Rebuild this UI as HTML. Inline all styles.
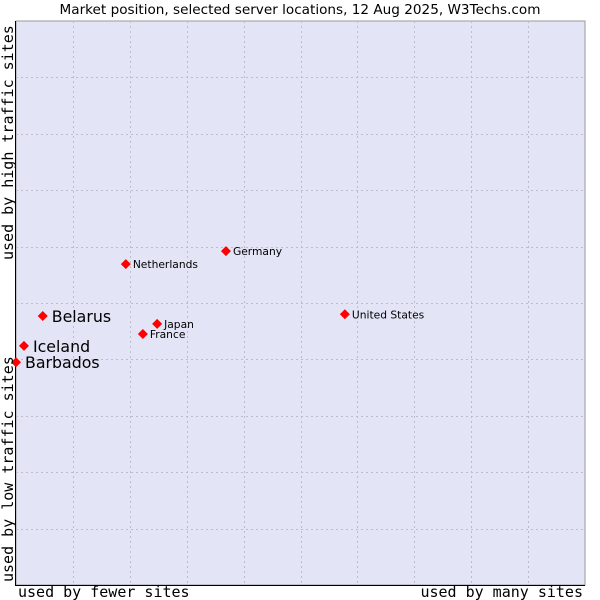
<!DOCTYPE html>
<html><head><meta charset="utf-8"><style>
body{margin:0;background:#fff;width:600px;height:600px;overflow:hidden}
svg{display:block}
text{font-family:"DejaVu Sans","Liberation Sans",sans-serif}
.mono{font-family:"DejaVu Sans Mono","Liberation Mono",monospace}
</style></head><body>
<svg id="chart" width="600" height="600" xmlns="http://www.w3.org/2000/svg">
<text x="300" y="14" text-anchor="middle" font-size="13.6" fill="#000">Market position, selected server locations, 12 Aug 2025, W3Techs.com</text>
<rect x="16" y="21" width="569" height="564" fill="#e3e5f7" stroke="#999" stroke-width="1"/>
<g id="grid"></g>
<line x1="15.5" y1="21" x2="15.5" y2="585" stroke="#000"/>
<line x1="15" y1="585.5" x2="585" y2="585.5" stroke="#000"/>
<g id="points"></g>
<text class="mono" x="18" y="597" font-size="15">used by fewer sites</text>
<text class="mono" x="583" y="597" font-size="15" text-anchor="end">used by many sites</text>
<text class="mono" transform="translate(13,582) rotate(-90)" font-size="15">used by low traffic sites</text>
<text class="mono" transform="translate(13,260) rotate(-90)" font-size="15">used by high traffic sites</text>
</svg>
<script>
const names = ["Barbados","Iceland","Belarus","Netherlands","Germany","Japan","France","United States"];
const xValues = [0,1.4,4.7,19.3,36.9,24.8,22.3,57.8];
const yValues = [39.5,42.4,47.7,56.9,59.2,46.3,44.5,48.0];
const bigLabel = [true,true,true,false,false,false,false,false];
const NS="http://www.w3.org/2000/svg";
const X0=16,X1=585,Y0=585,Y1=21;
function sx(v){return X0+(X1-X0)*v/100;}
function sy(v){return Y0-(Y0-Y1)*v/100;}
const grid=document.getElementById('grid');
for(let i=1;i<10;i++){
  const gx=Math.round(sx(i*10))+0.5, gy=Math.round(sy(i*10))+0.5;
  const v=document.createElementNS(NS,'line');
  
  
  v.setAttribute('x1',gx);v.setAttribute('x2',gx);v.setAttribute('y1',Y1);v.setAttribute('y2',Y0);
  v.setAttribute('stroke','#bdbdc8');v.setAttribute('stroke-dasharray','2,3');
  grid.appendChild(v);
  const h=document.createElementNS(NS,'line');
  
  
  h.setAttribute('x1',X0);h.setAttribute('x2',X1);h.setAttribute('y1',gy);h.setAttribute('y2',gy);
  h.setAttribute('stroke','#bdbdc8');h.setAttribute('stroke-dasharray','2,3');
  grid.appendChild(h);
}
const pts=document.getElementById('points');
names.forEach((n,i)=>{
  const x=sx(xValues[i]), y=sy(yValues[i]);
  const d=document.createElementNS(NS,'polygon');
  
  
  d.setAttribute('points',`${x},${y-5} ${x+5},${y} ${x},${y+5} ${x-5},${y}`);
  d.setAttribute('fill','#ff0000');
  pts.appendChild(d);
  const t=document.createElementNS(NS,'text');
  
  
  const big=bigLabel[i];
  t.setAttribute('x',x+(big?9:7));
  t.setAttribute('y',y+(big?6:4));
  t.setAttribute('font-size',big?15.8:10.7);
  t.setAttribute('fill','#000');
  t.textContent=n;
  pts.appendChild(t);
});
</script>
</body></html>
